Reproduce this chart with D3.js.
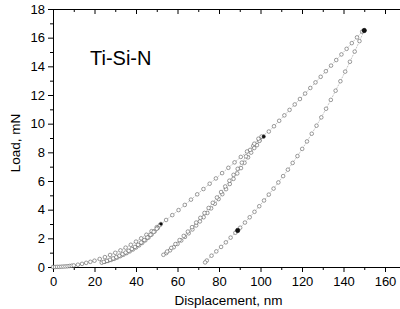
<!DOCTYPE html>
<html>
<head>
<meta charset="utf-8">
<script src="https://cdn.jsdelivr.net/npm/d3@7"></script>
<style>
  body { margin: 0; background: #fff; }
  text { font-family: "Liberation Sans", Arial, sans-serif; }
</style>
</head>
<body>
<div id="viz"></div>
<script>
// first loading
var load1D = [0,1,2,3,4,5,6,7,8,9,10,12,14,16,18,20,22.5,25,27.5,30,32.5,35,37.5,40,42.5,45,47.5,50,52];
var load1L = [0,0,0.01,0.01,0.02,0.03,0.04,0.05,0.07,0.09,0.11,0.16,0.22,0.29,0.36,0.44,0.56,0.69,0.84,0.99,1.16,1.35,1.55,1.77,2.0,2.25,2.5,2.78,3.0];
// partial unload + reload #1
var unload1D = [50.5,49,47.5,46,44.5,43,41.5,40,38.5,37,35.5,34,32.5,31,29.5,28,26.5,25,23.5];
var unload1L = [2.72,2.48,2.26,2.05,1.86,1.68,1.51,1.36,1.22,1.09,0.97,0.86,0.76,0.66,0.57,0.49,0.42,0.36,0.3];
var reload1D = [24.5,26,27.5,29,30.5,32,33.5,35,36.5,38,39.5,41,42.5,44,45.5,47,48.5,50,51.5];
var reload1L = [0.36,0.43,0.51,0.6,0.69,0.79,0.9,1.01,1.13,1.26,1.4,1.55,1.71,1.88,2.06,2.25,2.45,2.67,2.92];
// second loading
var load2D = [54.5,57.5,60.5,63.5,66.5,69.5,72.5,75.5,78.5,81.5,84.5,87.5,90.5,93.5,96.5,99.5,101.5];
var load2L = [3.28,3.62,3.97,4.33,4.7,5.07,5.44,5.81,6.18,6.55,6.92,7.3,7.68,8.06,8.45,8.84,9.1];
// partial unload + reload #2
var unload2D = [99.5,98.3,97,95.5,94,92.3,90.6,88.8,87,85.2,83.4,81.6,79.8,78,76.2,74.4,72.6,70.8,69,67.2,65.4,63.6,61.8,60,58.2,56.4,54.6,53.2];
var unload2L = [8.8,8.5,8.3,7.98,7.65,7.27,6.9,6.53,6.15,5.79,5.43,5.08,4.74,4.41,4.09,3.77,3.47,3.18,2.9,2.62,2.35,2.1,1.85,1.61,1.38,1.16,0.97,0.85];
var reload2D = [55,57,59,61,63,65,67,69,71,73,75,77,79,81,83,85,87,89,91,93,95,97,99,100.5];
var reload2L = [1.08,1.33,1.6,1.88,2.17,2.47,2.78,3.1,3.43,3.77,4.12,4.48,4.85,5.23,5.62,6.02,6.43,6.85,7.28,7.72,8.17,8.6,8.95,9.1];
// third loading
var load3D = [104,106.5,109,111.5,114,116.5,119,121.5,124,126.5,129,131.5,134,136.5,139,141.5,144,146.5,149,150];
var load3L = [9.45,9.82,10.2,10.58,10.96,11.34,11.72,12.1,12.49,12.88,13.27,13.66,14.05,14.44,14.83,15.22,15.62,16.02,16.42,16.5];
// final unloading
var unload3D = [147.7,145.4,143.1,140.8,138.5,136.2,133.9,131.6,129.3,127,124.7,122.4,120.1,117.8,115.5,113.2,110.9,108.6,106.3,104,101.7,99.4,97.1,94.8,92.5,90.2,87.9,85.6,83.3,81,78.7,76.4,74.1,73.3];
var unload3L = [15.76,15.03,14.32,13.63,12.96,12.3,11.66,11.04,10.44,9.86,9.3,8.76,8.24,7.74,7.26,6.79,6.34,5.9,5.47,5.05,4.64,4.24,3.85,3.47,3.1,2.74,2.39,2.05,1.72,1.4,1.09,0.79,0.45,0.32];
// hold points (dark spots)
var holdD = [52, 101.5, 150, 89];
var holdL = [3.0, 9.1, 16.5, 2.55];
var holdR = [1.3, 1.5, 2.2, 2.2];

var xTicks = [0,20,40,60,80,100,120,140,160];
var xMinor = [10,30,50,70,90,110,130,150];
var yTicks = [0,2,4,6,8,10,12,14,16,18];
var yMinor = [1,3,5,7,9,11,13,15,17];

var W = 400, H = 309;
var padL = 53, padT = 9, padB = 267;

var x = d3.scaleLinear().domain([0,160]).range([padL, 385]);
var y = d3.scaleLinear().domain([0,18]).range([padB, padT]);
// the frame keeps going past 160 to the picture edge
var xFull = x.copy().domain([0, x.invert(W)]).range([padL, W]);

function pairs(ds, ls) {
  return ds.map(function(d, i) { return [d, ls[i]]; });
}

var series = [].concat(
  pairs(load1D, load1L),
  pairs(unload1D, unload1L),
  pairs(reload1D, reload1L),
  pairs(load2D, load2L),
  pairs(unload2D, unload2L),
  pairs(reload2D, reload2L),
  pairs(load3D, load3L),
  pairs(unload3D, unload3L)
);

var svg = d3.select('#viz').append('svg')
  .attr('width', W)
  .attr('height', H)
  .style('background', '#fff');

// bottom axis
svg.append('g')
  .attr('transform', 'translate(0,' + padB + ')')
  .call(d3.axisBottom(xFull).tickValues(xTicks).tickSize(5).tickPadding(5).tickSizeOuter(0).tickFormat(d3.format('d')));
svg.append('g')
  .attr('transform', 'translate(0,' + padB + ')')
  .call(d3.axisBottom(x).tickValues(xMinor).tickSize(3).tickFormat(''))
  .call(function(g) { g.select('.domain').remove(); });

// top axis, ticks inward
svg.append('g')
  .attr('transform', 'translate(0,' + padT + ')')
  .call(d3.axisBottom(xFull).tickValues(xTicks).tickSize(5).tickSizeOuter(0).tickFormat(''));
svg.append('g')
  .attr('transform', 'translate(0,' + padT + ')')
  .call(d3.axisBottom(x).tickValues(xMinor).tickSize(3).tickFormat(''))
  .call(function(g) { g.select('.domain').remove(); });

// left axis
svg.append('g')
  .attr('transform', 'translate(' + padL + ',0)')
  .call(d3.axisLeft(y).tickValues(yTicks).tickSize(5).tickPadding(3).tickSizeOuter(0).tickFormat(d3.format('d')));
svg.append('g')
  .attr('transform', 'translate(' + padL + ',0)')
  .call(d3.axisLeft(y).tickValues(yMinor).tickSize(3).tickFormat(''))
  .call(function(g) { g.select('.domain').remove(); });

svg.selectAll('.tick text')
  .style('font-family', '"Liberation Sans", Arial, sans-serif')
  .style('font-size', '13px')
  .attr('fill', '#000');
svg.selectAll('.domain, .tick line').attr('stroke', '#000');

// connecting line
var line = d3.line()
  .x(function(d) { return x(d[0]); })
  .y(function(d) { return y(d[1]); });

svg.append('path')
  .datum(series)
  .attr('d', line)
  .attr('fill', 'none')
  .attr('stroke', '#888')
  .attr('stroke-width', 0.5)
  .attr('stroke-dasharray', '2,1');

svg.append('g').selectAll('circle')
  .data(series)
  .enter().append('circle')
    .attr('cx', function(d) { return x(d[0]); })
    .attr('cy', function(d) { return y(d[1]); })
    .attr('r', 1.8)
    .attr('fill', '#fff')
    .attr('stroke', '#5a5a5a')
    .attr('stroke-width', 0.6);

svg.append('g').selectAll('circle')
  .data(pairs(holdD, holdL))
  .enter().append('circle')
    .attr('cx', function(d) { return x(d[0]); })
    .attr('cy', function(d) { return y(d[1]); })
    .attr('r', function(d, i) { return holdR[i]; })
    .attr('fill', '#111')
    .attr('stroke', '#000')
    .attr('stroke-width', 0.5);

// labels
svg.append('text')
  .attr('x', (padL + W) / 2 + 2)
  .attr('y', 305)
  .attr('text-anchor', 'middle')
  .style('font-size', '13.5px')
  .text('Displacement, nm');

svg.append('text')
  .attr('transform', 'translate(20,' + ((padT + padB) / 2 + 5) + ') rotate(-90)')
  .attr('text-anchor', 'middle')
  .style('font-size', '13.5px')
  .text('Load, mN');

svg.append('text')
  .attr('x', 90)
  .attr('y', 65)
  .style('font-size', '20px')
  .text('Ti-Si-N');
</script>
</body>
</html>
